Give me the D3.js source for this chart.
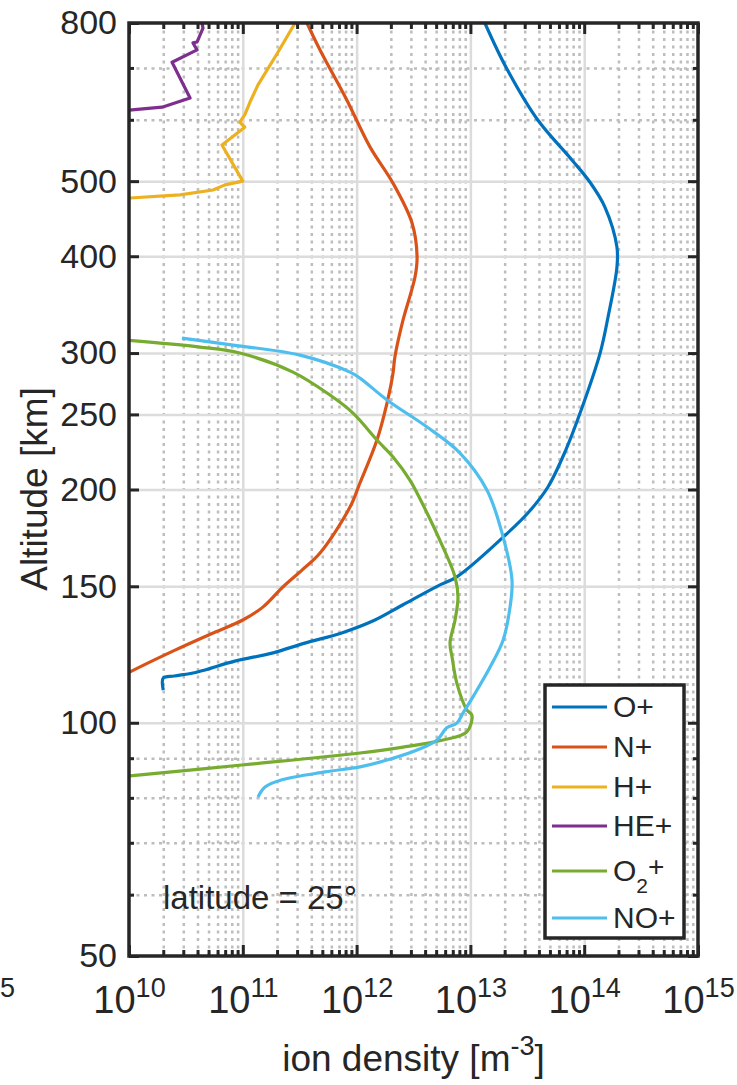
<!DOCTYPE html>
<html>
<head>
<meta charset="utf-8">
<script src="https://cdn.jsdelivr.net/npm/d3@7"></script>
<style>
  body { margin: 0; background: #fff; }
  svg { display: block; }
  text { font-family: "Liberation Sans", Arial, Helvetica, sans-serif; fill: #262626; }
</style>
</head>
<body>
<svg id="chart" width="737" height="1085"></svg>
<script>
// ion density profiles, altitude [km] vs density [m^-3]
const opAlt = [800, 702, 601.5, 532.6, 498.8, 463, 411, 387.4, 333.9, 300, 251, 225, 201.5, 186.5, 173.6, 154.3, 150, 142, 135.7, 130.6, 126.7, 123, 120.1, 116.3, 114.9, 114.2, 110.2];
const opDen = [1.34e13, 2.05e13, 3.85e13, 7.8e13, 1.12e14, 1.52e14, 1.94e14, 1.94e14, 1.62e14, 1.38e14, 9.2e13, 6.9e13, 4.8e13, 3.2e13, 1.94e13, 7.6e12, 5.1e12, 2.56e12, 1.45e12, 7.4e11, 3.5e11, 1.81e11, 8.5e10, 4.0e10, 2.5e10, 2.0e10, 2.0e10];

const npAlt = [800, 738.5, 636.5, 553.6, 497, 441.5, 399, 376, 331, 296.5, 282.7, 258.6, 231.7, 203.9, 189.8, 165.6, 157.4, 149.7, 141, 135.7, 130.6, 124.1, 116.3, 114];
const npDen = [3.66e11, 4.77e11, 8.2e11, 1.31e12, 2.09e12, 3.07e12, 3.40e12, 3.26e12, 2.56e12, 2.17e12, 2.09e12, 1.85e12, 1.51e12, 1.07e12, 8.75e11, 4.77e11, 3.31e11, 2.25e11, 1.5e11, 1.0e11, 5.5e10, 2.54e10, 1.02e10, 8e9];

const hpAlt = [800, 730, 665.6, 633, 608.8, 596, 587, 556.7, 500, 494.5, 487, 480, 475.6, 474];
const hpDen = [2.88e11, 2.0e11, 1.36e11, 1.16e11, 1.04e11, 9.4e10, 1.04e11, 6.56e10, 1.0e11, 6.98e10, 5.47e10, 2.8e10, 1.02e10, 9e9];

const hepAlt = [800, 788, 756, 754, 738.5, 712, 640, 623, 618, 616];
const hepDen = [4.38e10, 4.47e10, 3.96e10, 3.65e10, 3.96e10, 2.39e10, 3.44e10, 1.95e10, 1.06e10, 9e9];

const o2pAlt = [311.5, 305.4, 300, 283.5, 264.8, 251, 231.7, 220.3, 205.7, 186.5, 168.5, 154.2, 145.3, 135.7, 126.7, 121.6, 112.5, 103.9, 102.3, 97.3, 95, 93, 91.4, 88.2, 85.4, 85.2];
const o2pDen = [1.0e10, 4.2e10, 9.4e10, 2.76e11, 5.83e11, 9.3e11, 1.51e12, 2.09e12, 2.94e12, 4.16e12, 5.74e12, 7.33e12, 7.78e12, 7.33e12, 6.62e12, 6.9e12, 7.6e12, 9.3e12, 1.03e13, 9.3e12, 5.74e12, 2.56e12, 1.07e12, 9.8e10, 1.02e10, 9e9];

const nopAlt = [313.6, 307.2, 298.2, 283.5, 278.5, 261, 240.8, 222.9, 199.6, 173.6, 152.8, 141, 127.9, 118, 107.9, 102.9, 99.9, 98.5, 95, 92.2, 89.5, 87.7, 86.4, 84.4, 82.6, 80.2];
const nopDen = [2.92e10, 8.2e10, 3.18e11, 8.75e11, 1.07e12, 1.85e12, 4.16e12, 8.1e12, 1.40e13, 1.94e13, 2.32e13, 2.23e13, 1.94e13, 1.49e13, 1.05e13, 8.6e12, 7.6e12, 6.2e12, 5.1e12, 3.4e12, 1.85e12, 1.07e12, 5.27e11, 2.21e11, 1.57e11, 1.36e11];

const seriesNames = ["O+", "N+", "H+", "HE+", "O2+", "NO+"];
const seriesColors = ["#0072BD", "#D95319", "#EDB120", "#7E2F8E", "#77AC30", "#4DBEEE"];

const yTicks = [50, 100, 150, 200, 250, 300, 400, 500, 800];
const yMinor = [60, 70, 80, 90, 600, 700];
const xTicks = [1e10, 1e11, 1e12, 1e13, 1e14, 1e15];
const xExp = ["10", "11", "12", "13", "14", "15"];

const svg = d3.select("#chart");
const pL = 129, pR = 698, pT = 23, pB = 956;
const ink = "#262626";

const x = d3.scaleLog().domain([1e10, 1e15]).range([pL, pR]);
const y = d3.scaleLog().domain([50, 800]).range([pB, pT]);

const xMinor = x.ticks().filter(v => !xTicks.includes(v));
const yGrid = yTicks.filter(v => v !== 50 && v !== 800);
const xGrid = xTicks.slice(1, -1);

// ---- grid ----
function styleGrid(sel, color, dashed) {
  sel.select(".domain").remove();
  sel.selectAll("line")
    .attr("stroke", color)
    .attr("stroke-width", 2.5)
    .attr("stroke-dasharray", dashed ? "3,4.5" : null);
}
svg.append("g").attr("transform", `translate(0,${pB})`)
  .call(d3.axisBottom(x).tickValues(xMinor).tickSize(-(pB - pT)).tickFormat(""))
  .call(g => styleGrid(g, "#bdbdbd", true));
svg.append("g").attr("transform", `translate(${pL},0)`)
  .call(d3.axisLeft(y).tickValues(yMinor).tickSize(-(pR - pL)).tickFormat(""))
  .call(g => styleGrid(g, "#bdbdbd", true));
svg.append("g").attr("transform", `translate(0,${pB})`)
  .call(d3.axisBottom(x).tickValues(xGrid).tickSize(-(pB - pT)).tickFormat(""))
  .call(g => styleGrid(g, "#dcdcdc", false));
svg.append("g").attr("transform", `translate(${pL},0)`)
  .call(d3.axisLeft(y).tickValues(yGrid).tickSize(-(pR - pL)).tickFormat(""))
  .call(g => styleGrid(g, "#dcdcdc", false));

// ---- data ----
svg.append("clipPath").attr("id", "plotClip")
  .append("rect").attr("x", pL).attr("y", pT).attr("width", pR - pL).attr("height", pB - pT);

const smooth = d3.curveCatmullRom.alpha(0.5);
const series = [
  { alt: opAlt, den: opDen, curve: smooth },
  { alt: npAlt, den: npDen, curve: smooth },
  { alt: hpAlt, den: hpDen, curve: d3.curveLinear },
  { alt: hepAlt, den: hepDen, curve: d3.curveLinear },
  { alt: o2pAlt, den: o2pDen, curve: smooth },
  { alt: nopAlt, den: nopDen, curve: smooth }
];

const plot = svg.append("g").attr("clip-path", "url(#plotClip)");
series.forEach((s, i) => {
  const pts = s.alt.map((a, j) => [s.den[j], a]);
  const line = d3.line().x(d => x(d[0])).y(d => y(d[1])).curve(s.curve);
  plot.append("path")
    .datum(pts)
    .attr("d", line)
    .attr("fill", "none")
    .attr("stroke", seriesColors[i])
    .attr("stroke-width", 3.2)
    .attr("stroke-linejoin", "round");
});

// ---- ticks (inside, all four sides) ----
function styleTicks(sel) {
  sel.select(".domain").remove();
  sel.selectAll("line").attr("stroke", ink).attr("stroke-width", 3);
}
svg.append("g").attr("transform", `translate(${pL},0)`)
  .call(d3.axisLeft(y).tickValues(yTicks).tickSize(-10).tickPadding(12).tickFormat(d3.format("d")))
  .call(styleTicks)
  .call(g => g.selectAll("text").attr("font-size", 34).attr("fill", ink)
    .attr("font-family", '"Liberation Sans", Arial, sans-serif'));
svg.append("g").attr("transform", `translate(${pL},0)`)
  .call(d3.axisLeft(y).tickValues(yMinor).tickSize(-5).tickFormat(""))
  .call(styleTicks);
svg.append("g").attr("transform", `translate(${pR},0)`)
  .call(d3.axisRight(y).tickValues(yTicks).tickSize(-10).tickFormat(""))
  .call(styleTicks);
svg.append("g").attr("transform", `translate(${pR},0)`)
  .call(d3.axisRight(y).tickValues(yMinor).tickSize(-5).tickFormat(""))
  .call(styleTicks);

const xAxisBottom = svg.append("g").attr("transform", `translate(0,${pB})`)
  .call(d3.axisBottom(x).tickValues(xTicks).tickSize(-11).tickPadding(0).tickFormat(""))
  .call(styleTicks);
svg.append("g").attr("transform", `translate(0,${pB})`)
  .call(d3.axisBottom(x).tickValues(xMinor).tickSize(-6).tickFormat(""))
  .call(styleTicks);
svg.append("g").attr("transform", `translate(0,${pT})`)
  .call(d3.axisTop(x).tickValues(xTicks).tickSize(-11).tickFormat(""))
  .call(styleTicks);
svg.append("g").attr("transform", `translate(0,${pT})`)
  .call(d3.axisTop(x).tickValues(xMinor).tickSize(-6).tickFormat(""))
  .call(styleTicks);

// x tick labels as 10^n
xAxisBottom.selectAll(".tick text").remove();
xAxisBottom.selectAll(".tick").each(function(d, i) {
  const t = d3.select(this).append("text")
    .attr("y", 57)
    .attr("text-anchor", "middle")
    .attr("fill", ink)
    .attr("font-size", 38)
    .attr("font-family", '"Liberation Sans", Arial, sans-serif');
  t.append("tspan").text("10");
  t.append("tspan").attr("dy", -16).attr("font-size", 27).text(xExp[i]);
});

// frame
svg.append("rect")
  .attr("x", pL).attr("y", pT)
  .attr("width", pR - pL).attr("height", pB - pT)
  .attr("fill", "none").attr("stroke", ink).attr("stroke-width", 3.5);

// ---- axis labels ----
svg.append("text")
  .attr("transform", `translate(47,489) rotate(-90)`)
  .attr("text-anchor", "middle")
  .attr("font-size", 37)
  .text("Altitude [km]");

const xl = svg.append("text")
  .attr("x", (pL + pR) / 2).attr("y", 1071)
  .attr("text-anchor", "middle")
  .attr("font-size", 37);
xl.append("tspan").text("ion density [m");
xl.append("tspan").attr("dy", -16).attr("font-size", 27).text("-3");
xl.append("tspan").attr("dy", 16).text("]");

// leftover superscript from neighbouring panel
svg.append("text").attr("x", 0).attr("y", 997).attr("font-size", 27).text("5");

// annotation
svg.append("text").attr("x", 163).attr("y", 909).attr("font-size", 33).text("latitude = 25°");

// ---- legend ----
const legend = svg.append("g");
legend.append("rect")
  .attr("x", 545).attr("y", 685).attr("width", 139).attr("height", 253)
  .attr("fill", "#fff").attr("stroke", ink).attr("stroke-width", 3.5);
const legendRowY = [707, 747, 787, 826, 871, 918];
seriesNames.forEach((name, i) => {
  const ry = legendRowY[i];
  legend.append("line")
    .attr("x1", 552).attr("x2", 607).attr("y1", ry).attr("y2", ry)
    .attr("stroke", seriesColors[i]).attr("stroke-width", 3.2);
  const t = legend.append("text").attr("x", 613).attr("y", ry + 10).attr("font-size", 30);
  if (name === "O2+") {
    t.append("tspan").text("O");
    t.append("tspan").attr("dy", 12).attr("font-size", 21).text("2");
    t.append("tspan").attr("dy", -17).attr("font-size", 28).text("+");
  } else {
    t.text(name);
  }
});
</script>
</body>
</html>
